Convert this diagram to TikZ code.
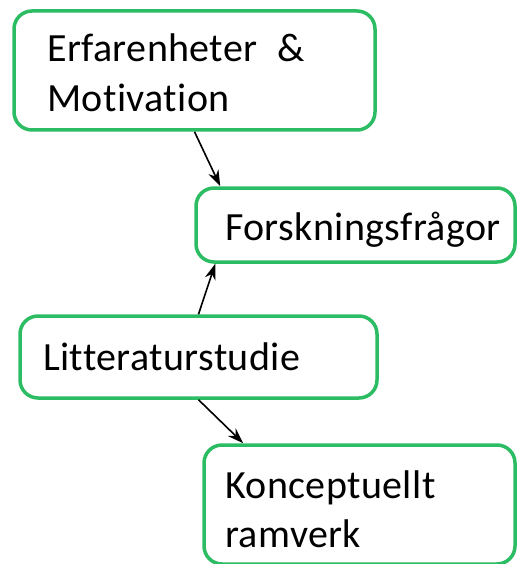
\documentclass[tikz,border=0pt]{standalone}
\usepackage{fontspec}
\setmainfont{Carlito}[Ligatures={NoCommon}, LetterSpace=1.0]
\usetikzlibrary{arrows.meta}
\definecolor{boxgreen}{RGB}{44,188,99}
\tikzset{
  box/.style={draw=boxgreen, line width=3.5pt, rounded corners=18pt,
    rectangle, inner sep=0pt, fill=white},
  label/.style={anchor=base west, inner sep=0pt, font=\fontsize{40}{50}\selectfont},
  link/.style={line width=1.6pt, -{Stealth[length=16pt,width=11pt]}},
}
\begin{document}
\begin{tikzpicture}[x=1pt,y=-1pt]
  \useasboundingbox (0,0) rectangle (518,564);
  % boxes
  \node[box, minimum width=361pt, minimum height=119pt] (erf) at (194.5,70.5) {};
  \node[box, minimum width=319pt, minimum height=74pt] (fra) at (355.5,225) {};
  \node[box, minimum width=357pt, minimum height=82pt] (lit) at (198.5,357) {};
  \node[box, minimum width=311pt, minimum height=119pt] (kon) at (359.5,504.5) {};
  % texts
  \node[label] (erf1) at (47,62) {Erfarenheter\hspace{0.5em}\&};
  \node[label] (erf2) at (47,112) {Motivation};
  \node[label] (fra1) at (225,240) {Forskningsfrågor};
  \node[label] (lit1) at (43,370) {Litteraturstudie};
  \node[label] (kon1) at (225,498) {Konceptuellt};
  \node[label] (kon2) at (225,547) {ramverk};
  % connectors
  \draw[link] (erf.south) -- ([xshift=26pt]fra.north west);
  \draw[link] (lit.north) -- ([xshift=21pt]fra.south west);
  \draw[link] (lit.south) -- ([xshift=41pt]kon.north west);
\end{tikzpicture}
\end{document}
